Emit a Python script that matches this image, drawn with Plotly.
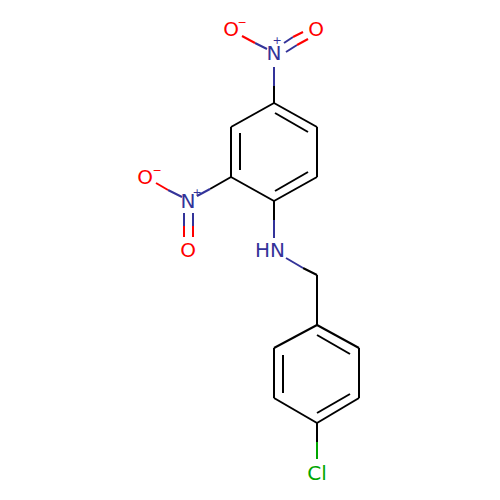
import plotly.graph_objects as go

BLACK = "#000000"
BLUE = "#333399"
RED = "#FF0000"
GREEN = "#00A600"

# bond pieces, one colour per list, [x0, y0, x1, y1] in picture pixels
black_bonds = [
    [274, 103, 231, 127], [231, 127, 231, 177], [231, 177, 274, 201],
    [274, 201, 317, 177], [317, 177, 317, 127], [317, 127, 274, 103],
    [240, 133, 240, 170], [275, 113, 308, 132], [275, 191, 308, 172],
    [274, 103, 274, 86], [231, 177, 210, 189], [274, 201, 274, 220],
    [303, 268, 317, 275], [317, 275, 317, 325],
    [317, 325, 274, 348], [274, 348, 274, 398], [274, 398, 317, 423],
    [317, 423, 359, 398], [359, 398, 359, 348], [359, 348, 317, 325],
    [317, 335, 350, 354], [283, 355, 283, 393], [317, 413, 350, 394],
    [317, 423, 317, 442],
]
blue_bonds = [
    [274, 86, 274, 67], [210, 189, 197, 196], [274, 220, 274, 238],
    [286, 258, 303, 268],
    [267, 49, 255, 43], [284, 43, 293, 37], [286, 52, 297, 45],
    [182, 197, 168, 190], [184, 213, 184, 226], [193, 213, 193, 226],
]
red_bonds = [
    [255, 43, 242, 36], [293, 37, 303, 32], [297, 45, 308, 39],
    [168, 190, 156, 183], [184, 226, 184, 237], [193, 226, 193, 237],
]
green_bonds = [[317, 442, 317, 459]]

label_text = ["N", "O", "O", "N", "O", "O", "HN", "Cl"]
label_x = [274, 231, 316, 188, 145, 188, 270, 317]
label_y = [55, 31, 31, 203, 179, 252, 252, 475]
label_color = [BLUE, RED, RED, BLUE, RED, RED, BLUE, GREEN]

charge_text = ["+", "−", "+", "−"]
charge_x = [277, 242, 197, 157]
charge_y = [41, 23, 193, 171]
charge_color = [BLUE, RED, BLUE, RED]


def bond_trace(bonds, color):
    xs, ys = [], []
    for b in bonds:
        xs += [b[0], b[2], None]
        ys += [b[1], b[3], None]
    return go.Scatter(x=xs, y=ys, mode="lines", hoverinfo="skip",
                      line=dict(color=color, width=2))


fig = go.Figure()
fig.add_trace(bond_trace(black_bonds, BLACK))
fig.add_trace(bond_trace(blue_bonds, BLUE))
fig.add_trace(bond_trace(red_bonds, RED))
fig.add_trace(bond_trace(green_bonds, GREEN))
fig.add_trace(go.Scatter(x=label_x, y=label_y, mode="text", text=label_text,
                         textposition="middle center",
                         textfont=dict(family="DejaVu Sans", size=20, color=label_color)))
fig.add_trace(go.Scatter(x=charge_x, y=charge_y, mode="text", text=charge_text,
                         textposition="middle center",
                         textfont=dict(family="DejaVu Sans", size=11, color=charge_color)))

# the page has an 8px body margin, so the plot covers pixels 8 to 500
fig.update_xaxes(visible=False, range=[8, 500])
fig.update_yaxes(visible=False, range=[500, 8])
fig.update_layout(width=492, height=492, showlegend=False,
                  margin=dict(l=0, r=0, t=0, b=0),
                  paper_bgcolor="white", plot_bgcolor="white")
fig.write_html("out.html")
